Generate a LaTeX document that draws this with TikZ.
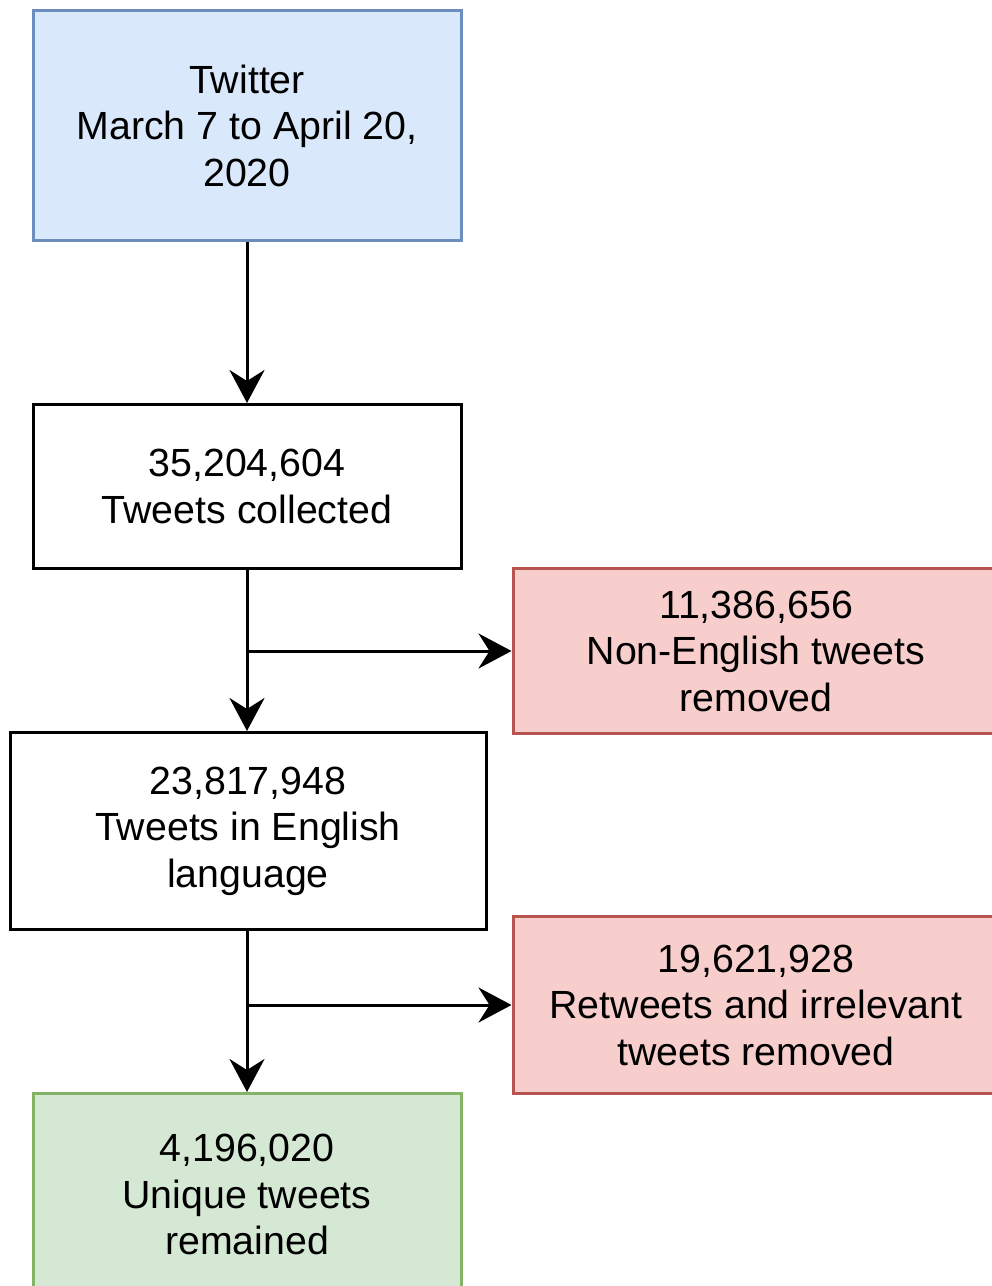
\documentclass[tikz,border=0pt]{standalone}
\usepackage{fontspec}
\setmainfont{Liberation Sans}
\usetikzlibrary{arrows.meta}
\definecolor{bluefill}{HTML}{DAE8FC}
\definecolor{bluedraw}{HTML}{6C8EBF}
\definecolor{redfill}{HTML}{F8CECC}
\definecolor{reddraw}{HTML}{B85450}
\definecolor{greenfill}{HTML}{D5E8D4}
\definecolor{greendraw}{HTML}{82B366}
\tikzset{
  box/.style={draw=black, fill=white, line width=3pt, rectangle, align=center, inner sep=0pt,
    font=\fontsize{39.3}{46.5}\selectfont},
  bluebox/.style={box, draw=bluedraw, fill=bluefill},
  redbox/.style={box, draw=reddraw, fill=redfill},
  greenbox/.style={box, draw=greendraw, fill=greenfill},
  arr/.style={-{Stealth[length=33pt, width=35pt, inset=11pt]}, line width=3pt, black},
  ln/.style={line width=3pt, black}
}
\begin{document}
\begin{tikzpicture}[x=1pt, y=-1pt]
\useasboundingbox (0,0) rectangle (992,1286);
\clip (0,0) rectangle (992,1286);
\node[bluebox, minimum width=428pt, minimum height=230pt] (tw) at (247,125.5) {Twitter\\March 7 to April 20,\\2020};
\node[box, minimum width=428pt, minimum height=164pt] (col) at (247,486.5) {35,204,604\\Tweets collected};
\node[redbox, minimum width=486pt, minimum height=165pt] (nonen) at (756,651) {11,386,656\\Non-English tweets\\removed};
\node[box, minimum width=476pt, minimum height=197pt] (eng) at (248,831) {23,817,948\\Tweets in English\\language};
\node[redbox, minimum width=486pt, minimum height=177pt] (rt) at (756,1005) {19,621,928\\Retweets and irrelevant\\tweets removed};
\node[greenbox, minimum width=428pt, minimum height=202pt] (uni) at (247,1194.5) {4,196,020\\Unique tweets\\remained};
\coordinate (b1) at (col.south |- nonen.west);
\coordinate (b2) at (col.south |- rt.west);
\draw[arr] (tw.south) -- (col.north);
\draw[arr] (col.south) -- (col.south |- eng.north);
\draw[arr] (b1) -- (nonen.west);
\draw[arr] (eng.south -| col.south) -- (col.south |- uni.north);
\draw[arr] (b2) -- (rt.west);
\end{tikzpicture}
\end{document}
